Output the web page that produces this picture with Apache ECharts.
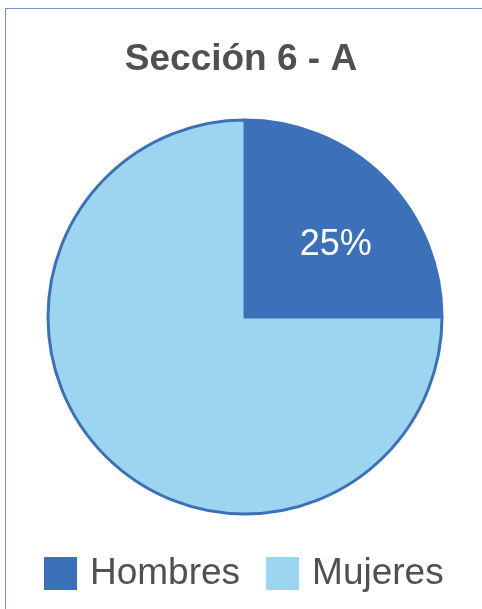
<!DOCTYPE html>
<html><head><meta charset="utf-8">
<script src="https://cdn.jsdelivr.net/npm/echarts@6/dist/echarts.min.js"></script>
<style>html,body{margin:0;padding:0;background:#fff}#c{width:482px;height:609px}</style>
</head><body><div id="c"></div>
<script>
const titleText = "Sección 6 - A";
const categories = ["Hombres", "Mujeres"];
const values = [25, 75];
const showLabel = [true, false];
const colors = ["#3C71B9", "#9DD5F0"];

const chart = echarts.init(document.getElementById('c'), null, {renderer: 'canvas'});
chart.setOption({
  animation: false,
  backgroundColor: '#fff',
  graphic: [{type: 'rect', shape: {x: 5.5, y: 8.5, width: 600, height: 700}, style: {fill: 'none', stroke: '#6E93CB', lineWidth: 1}, silent: true}],
  title: {text: titleText, left: 'center', top: 36,
    textStyle: {fontFamily: 'Liberation Sans, Arial', fontWeight: 'bold', fontSize: 37, color: '#505050'}},
  legend: {
    data: categories, top: 550, left: 39, icon: 'rect', itemWidth: 33, itemHeight: 33, itemGap: 26,
    itemStyle: {borderWidth: 0},
    textStyle: {fontFamily: 'Liberation Sans, Arial', fontSize: 37, color: '#505050', padding: [0,0,0,8]}
  },
  series: [{
    type: 'pie', center: [245, 317], radius: 197, startAngle: 90, clockwise: true,
    itemStyle: {borderColor: '#3C71B9', borderWidth: 3},
    label: {position: 'inside', formatter: '{d}%', color: '#fff', fontSize: 36, fontFamily: 'Liberation Sans, Arial', padding: [0,0,20,38]},
    labelLine: {show: false},
    emphasis: {disabled: true},
    data: categories.map((n, i) => ({name: n, value: values[i], itemStyle: {color: colors[i]}, label: {show: showLabel[i]}}))
  }]
});
</script></body></html>
